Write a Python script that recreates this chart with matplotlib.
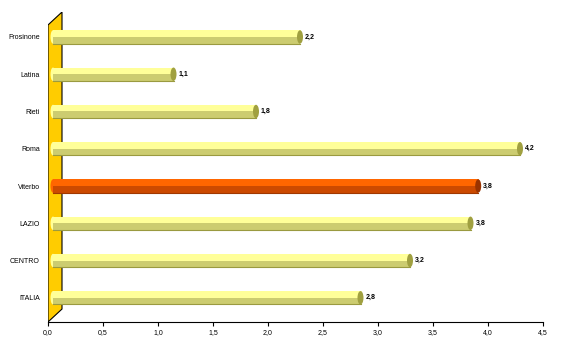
import matplotlib
matplotlib.use("Agg")
import matplotlib.pyplot as plt
from matplotlib.patches import Polygon, Ellipse, Rectangle

# dati (dal basso verso l'alto)
categorie = ["ITALIA", "CENTRO", "LAZIO", "Viterbo", "Roma", "Rieti", "Latina", "Frosinone"]
valori = [2.75, 3.2, 3.75, 3.82, 4.2, 1.8, 1.05, 2.2]
etichette = ["2,8", "3,2", "3,8", "3,8", "4,2", "1,8", "1,1", "2,2"]
evidenziata = "Viterbo"

tick_x = [0, 0.5, 1, 1.5, 2, 2.5, 3, 3.5, 4, 4.5]
tick_lab = ["0,0", "0,5", "1,0", "1,5", "2,0", "2,5", "3,0", "3,5", "4,0", "4,5"]

plt.rcParams["font.family"] = ["Liberation Sans", "DejaVu Sans"]

fig = plt.figure(figsize=(5.68, 3.49), dpi=100)
ax = fig.add_axes([48 / 568, 27 / 349, 495 / 568, 310 / 349])

ymin, ymax = -0.65, 7.67
ax.set_xlim(0, 4.5)
ax.set_ylim(ymin, ymax)

# profondita' 3D (in unita' dati)
dx = 14 / 110
dy = 13 / 37.3

# parete gialla
parete = Polygon([(0, ymin), (0, ymax - dy), (dx, ymax), (dx, ymin + dy)],
                 closed=True, facecolor="#FFCC00", edgecolor="black", lw=0.8, zorder=1)
ax.add_patch(parete)

h = 0.36
x0 = 5 / 110
for i, (cat, v, lab) in enumerate(zip(categorie, valori, etichette)):
    if cat == evidenziata:
        c_top, c_bot, c_cap, c_edge = "#FF6600", "#CC4A00", "#993300", "#A03800"
    else:
        c_top, c_bot, c_cap, c_edge = "#FFFF99", "#CCCC70", "#A0A040", "#9A9A40"
    x1 = v + 10 / 110
    w = x1 - x0
    # parte inferiore (ombra)
    ax.add_patch(Rectangle((x0, i - h / 2), w, h * 0.5, facecolor=c_bot,
                           edgecolor="none", zorder=3))
    # parte superiore (chiara)
    ax.add_patch(Rectangle((x0, i), w, h * 0.5, facecolor=c_top,
                           edgecolor="none", zorder=3))
    ax.plot([x0, x1], [i - h / 2, i - h / 2], color=c_edge, lw=0.8, zorder=4)
    ax.plot([x0, x1], [i + h / 2, i + h / 2], color=c_top, lw=0.6, zorder=4)
    # estremita'
    ax.add_patch(Ellipse((x1, i), 6 / 110, h, facecolor=c_cap,
                         edgecolor="none", zorder=5))
    ax.add_patch(Ellipse((x0, i), 5 / 110, h, facecolor=c_top,
                         edgecolor="none", zorder=2))
    ax.text(x1 + 5 / 110, i, lab, fontsize=5, fontweight="bold",
            ha="left", va="center", zorder=6)

ax.set_yticks(range(len(categorie)))
ax.set_yticklabels(categorie, fontsize=5)
ax.set_xticks(tick_x)
ax.set_xticklabels(tick_lab, fontsize=5)
ax.tick_params(axis="y", length=0, pad=6)
ax.tick_params(axis="x", length=3, width=0.8, direction="out", pad=2)

for s in ["top", "right", "left"]:
    ax.spines[s].set_visible(False)
ax.spines["bottom"].set_linewidth(0.8)

fig.savefig("out.png", dpi=100)
